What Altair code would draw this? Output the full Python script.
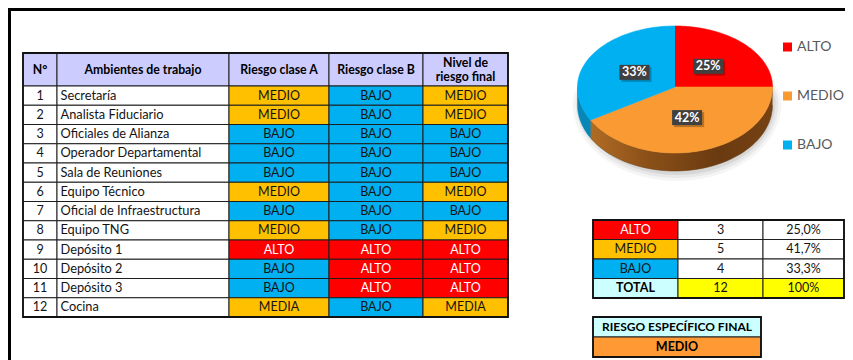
import altair as alt
import pandas as pd

# ---------------- data ----------------
row_numbers = list(range(1, 13))
ambientes = ["Secretaría", "Analista Fiduciario", "Oficiales de Alianza", "Operador Departamental",
             "Sala de Reuniones", "Equipo Técnico", "Oficial de Infraestructura", "Equipo TNG",
             "Depósito 1", "Depósito 2", "Depósito 3", "Cocina"]
riesgo_a = ["MEDIO", "MEDIO", "BAJO", "BAJO", "BAJO", "MEDIO", "BAJO", "MEDIO",
            "ALTO", "BAJO", "BAJO", "MEDIA"]
riesgo_b = ["BAJO", "BAJO", "BAJO", "BAJO", "BAJO", "BAJO", "BAJO", "BAJO",
            "ALTO", "ALTO", "ALTO", "BAJO"]
riesgo_final = ["MEDIO", "MEDIO", "BAJO", "BAJO", "BAJO", "MEDIO", "BAJO", "MEDIO",
                "ALTO", "ALTO", "ALTO", "MEDIA"]
header_labels = ["N°", "Ambientes de trabajo", "Riesgo clase A", "Riesgo clase B", "Nivel de\nriesgo final"]
levels = ["ALTO", "MEDIO", "BAJO"]
level_counts = [3, 5, 4]
total_label = "TOTAL"
final_title = "RIESGO ESPECÍFICO FINAL"
final_level = "MEDIO"

# ---------------- layout / style ----------------
FONT = "Lato"
X0, X1 = 8, 845
Y0, Y1 = 8, 360
COLS = [23, 57, 229, 329, 423, 508]
HEAD_TOP, HEAD_BOT, ROW_H = 53, 86, 19.25
SUM_COLS = [593, 678, 763, 844]
SUM_TOP, SUM_ROW_H = 220, 19.5
FIN_COLS = [593, 761]
FIN_TOP, FIN_ROW_H = 317, 20
CX, CY, RX, RYT, RYB, DEPTH, N = 675, 87, 97.5, 61, 66, 18, 60
LABEL_F = 0.48
LEG_X, LEG_TX, LEG_Y0, LEG_STEP = 787.5, 797, 47, 49
LINE_H = 14
BODY_SIZE, NAME_SIZE, HEAD_SIZE = 12.5, 12.8, 12.3

CELL_FILL = {"ALTO": "#FF0000", "MEDIO": "#FFC000", "MEDIA": "#FFC000", "BAJO": "#00B0F0"}
PIE_FILL = {"ALTO": "#FF0000", "MEDIO": "#F99A33", "BAJO": "#00B0F0"}
HEADER_FILL = "#CCCCFF"
TOTAL_FILL = "#CCFFFF"
YELLOW = "#FFFF00"
FINAL_FILL = "#FF9933"
DARK = "#141414"

XS = alt.Scale(domain=[X0, X1], nice=False, zero=False)
YS = alt.Scale(domain=[Y0, Y1], nice=False, zero=False, reverse=True)


def ex(f):
    return alt.X(f"{f}:Q", scale=XS, axis=None)


def ey(f):
    return alt.Y(f"{f}:Q", scale=YS, axis=None)


# ---------------- table cells ----------------
cells = []


def add_cell(x0, x1, y0, y1, text, fill, tcolor="#000000", align="center", bold=False, size=BODY_SIZE):
    text = str(text)
    n_lines = text.count("\n") + 1
    cells.append(dict(x0=x0, x1=x1, y0=y0, y1=y1, text=text, fill=fill, tcolor=tcolor,
                      align=align, bold=bold, size=size,
                      tx=(x0 + 3.5 if align == "left" else (x0 + x1) / 2),
                      ty=(y0 + y1) / 2 - (n_lines - 1) * LINE_H / 2))


for j, lab in enumerate(header_labels):
    add_cell(COLS[j], COLS[j + 1], HEAD_TOP, HEAD_BOT, lab, HEADER_FILL, bold=True, size=HEAD_SIZE)

for i in range(len(ambientes)):
    y0 = HEAD_BOT + i * ROW_H
    y1 = y0 + ROW_H
    add_cell(COLS[0], COLS[1], y0, y1, row_numbers[i], "#FFFFFF", DARK)
    add_cell(COLS[1], COLS[2], y0, y1, ambientes[i], "#FFFFFF", DARK, align="left", size=NAME_SIZE)
    for j, v in enumerate([riesgo_a[i], riesgo_b[i], riesgo_final[i]]):
        add_cell(COLS[2 + j], COLS[3 + j], y0, y1, v, CELL_FILL[v],
                 "#FFFFFF" if v == "ALTO" else DARK)

total = sum(level_counts)
for i, (c, n) in enumerate(zip(levels, level_counts)):
    y0 = SUM_TOP + i * SUM_ROW_H
    y1 = y0 + SUM_ROW_H
    add_cell(SUM_COLS[0], SUM_COLS[1], y0, y1, c, CELL_FILL[c], "#FFFFFF" if c == "ALTO" else DARK)
    add_cell(SUM_COLS[1], SUM_COLS[2], y0, y1, n, "#FFFFFF", DARK)
    add_cell(SUM_COLS[2], SUM_COLS[3], y0, y1,
             f"{n / total * 100:.1f}".replace(".", ",") + "%", "#FFFFFF", DARK)
y0 = SUM_TOP + len(levels) * SUM_ROW_H
add_cell(SUM_COLS[0], SUM_COLS[1], y0, y0 + SUM_ROW_H, total_label, TOTAL_FILL, bold=True)
add_cell(SUM_COLS[1], SUM_COLS[2], y0, y0 + SUM_ROW_H, total, YELLOW, DARK)
add_cell(SUM_COLS[2], SUM_COLS[3], y0, y0 + SUM_ROW_H, f"{total / total * 100:.0f}%", YELLOW, DARK)

add_cell(FIN_COLS[0], FIN_COLS[1], FIN_TOP, FIN_TOP + FIN_ROW_H, final_title, TOTAL_FILL, bold=True, size=12)
add_cell(FIN_COLS[0], FIN_COLS[1], FIN_TOP + FIN_ROW_H, FIN_TOP + 2 * FIN_ROW_H, final_level,
         FINAL_FILL, bold=True, size=12.5)

cells_df = pd.DataFrame(cells)

cell_rects = alt.Chart(cells_df).mark_rect(stroke="#1E1E1E", strokeWidth=1).encode(
    x=ex("x0"), x2="x1", y=ey("y0"), y2="y1", color=alt.Color("fill:N", scale=None))

outer_df = pd.DataFrame({"x0": [COLS[0], SUM_COLS[0], FIN_COLS[0]],
                         "x1": [COLS[-1], SUM_COLS[-1], FIN_COLS[-1]],
                         "y0": [HEAD_TOP, SUM_TOP, FIN_TOP],
                         "y1": [HEAD_BOT + len(ambientes) * ROW_H, SUM_TOP + 4 * SUM_ROW_H,
                                FIN_TOP + 2 * FIN_ROW_H]})
outer = alt.Chart(outer_df).mark_rect(fill="transparent", stroke="#111111", strokeWidth=1.8).encode(
    x=ex("x0"), x2="x1", y=ey("y0"), y2="y1")


def text_layer(align, bold):
    return alt.Chart(cells_df).transform_filter(
        f"datum.align == '{align}' && datum.bold == {'true' if bold else 'false'}"
    ).mark_text(font=FONT, align=align, baseline="middle", fontWeight="bold" if bold else "normal",
                lineBreak="\n", lineHeight=LINE_H).encode(
        x=ex("tx"), y=ey("ty"), text="text:N",
        color=alt.Color("tcolor:N", scale=None), size=alt.Size("size:Q", scale=None))


texts = [text_layer("center", False), text_layer("center", True), text_layer("left", False)]

# ---------------- frame ----------------
frame_h = alt.Chart(pd.DataFrame({"x": [X0], "x2": [X1], "y": [9.5]})).mark_rule(
    strokeWidth=3, color="#000000").encode(x=ex("x"), x2="x2", y=ey("y"))
frame_v = alt.Chart(pd.DataFrame({"x": [9.5], "y": [Y0], "y2": [Y1]})).mark_rule(
    strokeWidth=3, color="#000000").encode(x=ex("x"), y=ey("y"), y2="y2")

# ---------------- pie ----------------
pie_df = pd.DataFrame({"cat": levels, "n": level_counts, "ord": list(range(len(levels))),
                       "fill": [PIE_FILL[c] for c in levels]})
pie_base = (alt.Chart(pie_df)
            .transform_joinaggregate(total="sum(n)")
            .transform_window(cum="sum(n)", sort=[alt.SortField("ord", order="ascending")], frame=[None, 0])
            .transform_calculate(a0="2*PI*(datum.cum-datum.n)/datum.total")
            .transform_calculate(a1="2*PI*datum.cum/datum.total"))

shadows = []
for d, op in [(0, 0.07), (3, 0.05), (6, 0.04)]:
    shadows.append(
        alt.Chart(alt.sequence(0, 73, as_="k"))
        .transform_calculate(t="2*PI*datum.k/72")
        .transform_calculate(px=f"{CX + 2} + {RX + 1 + d}*sin(datum.t)")
        .transform_calculate(py=f"{CY + 16} - (cos(datum.t) > 0 ? {RYT - 10} : {RYB + 6 + d})*cos(datum.t)")
        .mark_line(filled=True, fill="#000000", fillOpacity=op, strokeOpacity=0)
        .encode(x=ex("px"), y=ey("py"), order=alt.Order("k:Q"))
    )

side = (pie_base
        .transform_calculate(s0="max(datum.a0, PI/2)")
        .transform_calculate(s1="min(datum.a1, 3*PI/2)")
        .transform_filter("datum.s1 > datum.s0")
        .transform_calculate(idx=f"sequence(0, {2 * N + 2})")
        .transform_flatten(["idx"])
        .transform_calculate(j=f"datum.idx <= {N} ? datum.idx : {2 * N + 1} - datum.idx")
        .transform_calculate(t=f"datum.s0 + (datum.s1 - datum.s0)*datum.j/{N}")
        .transform_calculate(px=f"{CX} + {RX}*sin(datum.t)")
        .transform_calculate(py=f"{CY} - {RYB}*cos(datum.t) + (datum.idx > {N} ? {DEPTH} : 0)"))

medio_grad = alt.Gradient(gradient="linear", x1=0, x2=1, y1=0, y2=0, stops=[
    alt.GradientStop(color="#B06C24", offset=0),
    alt.GradientStop(color="#8C5119", offset=0.3),
    alt.GradientStop(color="#6A3A10", offset=0.7),
    alt.GradientStop(color="#764214", offset=1)])
side_medio = side.transform_filter("datum.cat == 'MEDIO'").mark_line(
    filled=True, fill=medio_grad, stroke="#6A3A10", strokeWidth=0.5).encode(
    x=ex("px"), y=ey("py"), order=alt.Order("idx:Q"), detail="cat:N")
side_bajo = side.transform_filter("datum.cat == 'BAJO'").mark_line(
    filled=True, fill="#0787B8", stroke="#0787B8", strokeWidth=0.5).encode(
    x=ex("px"), y=ey("py"), order=alt.Order("idx:Q"), detail="cat:N")

top = (pie_base
       .transform_calculate(idx=f"sequence(-1, {N + 1})")
       .transform_flatten(["idx"])
       .transform_calculate(t=f"datum.a0 + (datum.a1 - datum.a0)*max(datum.idx, 0)/{N}")
       .transform_calculate(r="datum.idx < 0 ? 0 : 1")
       .transform_calculate(px=f"{CX} + datum.r*{RX}*sin(datum.t)")
       .transform_calculate(py=f"{CY} - datum.r*(cos(datum.t) > 0 ? {RYT} : {RYB})*cos(datum.t)")
       .mark_line(filled=True, strokeWidth=0.6)
       .encode(x=ex("px"), y=ey("py"), order=alt.Order("idx:Q"), detail="cat:N",
               color=alt.Color("fill:N", scale=None), stroke=alt.Stroke("fill:N", scale=None)))

lab = (pie_base
       .transform_calculate(mid="(datum.a0 + datum.a1)/2")
       .transform_calculate(lx=f"{CX} + {LABEL_F}*{RX}*sin(datum.mid)")
       .transform_calculate(ly=f"{CY} - {LABEL_F}*(cos(datum.mid) > 0 ? {RYT} : {RYB})*cos(datum.mid)")
       .transform_calculate(pct="format(datum.n/datum.total, '.0%')")
       .transform_calculate(bx0="datum.lx - 15", bx1="datum.lx + 15",
                            by0="datum.ly - 7.5", by1="datum.ly + 7.5")
       .transform_calculate(sx0="datum.bx0 + 2", sx1="datum.bx1 + 2",
                            sy0="datum.by0 + 2", sy1="datum.by1 + 2"))
lab_shadow = lab.mark_rect(fill="#000000", opacity=0.25).encode(
    x=ex("sx0"), x2="sx1", y=ey("sy0"), y2="sy1")
lab_box = lab.mark_rect(fill="#404040").encode(x=ex("bx0"), x2="bx1", y=ey("by0"), y2="by1")
lab_text = lab.mark_text(font=FONT, fontWeight="bold", fontSize=12.5, color="#FFFFFF",
                         baseline="middle").encode(x=ex("lx"), y=ey("ly"), text="pct:N")

# ---------------- legend ----------------
leg_df = pd.DataFrame({"cat": levels, "i": list(range(len(levels))),
                       "fill": [PIE_FILL[c] for c in levels]})
leg = alt.Chart(leg_df).transform_calculate(
    ly=f"{LEG_Y0} + datum.i*{LEG_STEP}", lx=f"{LEG_X}", tx=f"{LEG_TX}")
leg_sq = leg.mark_square(size=81, opacity=1).encode(
    x=ex("lx"), y=ey("ly"), color=alt.Color("fill:N", scale=None))
leg_tx = leg.mark_text(font=FONT, fontSize=14, color="#595959", align="left", baseline="middle").encode(
    x=ex("tx"), y=ey("ly"), text="cat:N")

chart = alt.layer(
    frame_h, frame_v, cell_rects, outer, *texts, *shadows, side_medio, side_bajo, top,
    lab_shadow, lab_box, lab_text, leg_sq, leg_tx
).properties(
    width=X1 - X0, height=Y1 - Y0, padding=0, autosize=alt.AutoSizeParams(type="none"),
    background="#FFFFFF"
).configure_view(stroke=None)

chart.save("out.html", embed_options={"renderer": "svg", "actions": False})
